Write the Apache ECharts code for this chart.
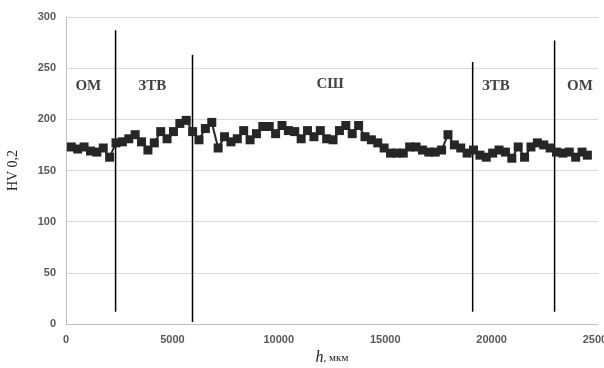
<!DOCTYPE html>
<html>
<head>
<meta charset="utf-8">
<script src="https://cdn.jsdelivr.net/npm/echarts@6/dist/echarts.min.js"></script>
<style>
  html, body { margin: 0; padding: 0; background: #fff; }
  #chart { width: 604px; height: 368px; }
</style>
</head>
<body>
<div id="chart"></div>
<script>
// measurement positions, мкм
const depthH = [
  250, 550, 850, 1150, 1450, 1750, 2050, 2350, 2650, 2950,
  3250, 3550, 3850, 4150, 4450, 4750, 5050, 5350, 5650, 5950,
  6250, 6550, 6850, 7150, 7450, 7750, 8050, 8350, 8650, 8950,
  9250, 9550, 9850, 10150, 10450, 10750, 11050, 11350, 11650, 11950,
  12250, 12550, 12850, 13150, 13450, 13750, 14050, 14350, 14650, 14950,
  15250, 15550, 15850, 16150, 16450, 16750, 17050, 17350, 17650, 17950,
  18250, 18550, 18850, 19150, 19450, 19750, 20050, 20350, 20650, 20950,
  21250, 21550, 21850, 22150, 22450, 22750, 23050, 23350, 23650, 23950,
  24250, 24500
];
// HV 0,2 readings
const hardness = [
  173, 171, 173, 169, 168, 172, 163, 177, 178, 181,
  185, 178, 170, 177, 188, 181, 188, 196, 199, 188,
  180, 191, 197, 172, 183, 178, 181, 189, 180, 186,
  193, 193, 186, 194, 189, 188, 181, 189, 183, 189,
  181, 180, 189, 194, 186, 194, 183, 180, 177, 172,
  167, 167, 167, 173, 173, 170, 168, 168, 170, 185,
  175, 172, 167, 170, 165, 163, 167, 170, 168, 162,
  173, 163, 173, 177, 175, 172, 168, 167, 168, 163,
  168, 165
];

// zone boundaries
const dividerH = [2330, 5945, 19110, 22960];
const dividerTop = [287, 263, 256, 277];
const dividerBottom = [12, 2, 12, 12];

// zone captions
const zoneNames = ['ОМ', 'ЗТВ', 'СШ', 'ЗТВ', 'ОМ'];
const zoneH = [1050, 4050, 12410, 20200, 24150];
const zoneY = [232, 232, 234, 232, 232];

const xTicks = { min: 0, max: 25000, interval: 5000 };
const yTicks = { min: 0, max: 300, interval: 50 };

function tickText() {
  return { color: '#595959', fontSize: 11, fontWeight: 'bold', fontFamily: 'Liberation Sans', formatter: v => String(v) };
}

const dividerSeries = dividerH.map((h, i) => ({
  type: 'line',
  symbol: 'none',
  silent: true,
  z: 3,
  lineStyle: { color: '#000', width: 1.5 },
  data: [[h, dividerBottom[i]], [h, dividerTop[i]]]
}));

const chart = echarts.init(document.getElementById('chart'), null, { renderer: 'canvas' });
chart.setOption({
  animation: false,
  backgroundColor: '#fff',
  grid: { left: 66, right: 6, top: 17, bottom: 44, outerBoundsMode: 'none', containLabel: false },
  xAxis: {
    type: 'value',
    min: xTicks.min, max: xTicks.max, interval: xTicks.interval,
    name: '{h|h}{u|, мкм}',
    nameLocation: 'middle',
    nameGap: 22,
    nameTextStyle: {
      rich: {
        h: { fontFamily: 'Liberation Serif', fontStyle: 'italic', fontSize: 16, color: '#222' },
        u: { fontFamily: 'Liberation Serif', fontSize: 11, color: '#222' }
      }
    },
    axisLine: { lineStyle: { color: '#bfbfbf' } },
    axisTick: { show: false },
    splitLine: { show: false },
    axisLabel: Object.assign(tickText(), { margin: 10 })
  },
  yAxis: {
    type: 'value',
    min: yTicks.min, max: yTicks.max, interval: yTicks.interval,
    name: 'HV 0,2',
    nameLocation: 'middle',
    nameGap: 46,
    nameTextStyle: { fontFamily: 'Liberation Serif', fontSize: 14, color: '#222' },
    axisLine: { show: true, lineStyle: { color: '#bfbfbf' } },
    axisTick: { show: false },
    splitLine: { lineStyle: { color: '#d9d9d9', width: 1 } },
    axisLabel: Object.assign(tickText(), { margin: 10 })
  },
  series: [
    {
      type: 'line',
      data: depthH.map((h, i) => [h, hardness[i]]),
      symbol: 'rect',
      symbolSize: 9,
      z: 4,
      itemStyle: { color: '#262626' },
      lineStyle: { color: '#262626', width: 2 }
    },
    ...dividerSeries,
    {
      type: 'scatter',
      symbol: 'circle',
      symbolSize: 1,
      silent: true,
      z: 5,
      itemStyle: { color: 'rgba(0,0,0,0)' },
      data: zoneNames.map((name, i) => ({ name, value: [zoneH[i], zoneY[i]] })),
      label: {
        show: true,
        position: 'inside',
        formatter: '{b}',
        fontFamily: 'Liberation Serif',
        fontWeight: 'bold',
        fontSize: 15,
        color: '#111'
      }
    }
  ]
});
</script>
</body>
</html>
